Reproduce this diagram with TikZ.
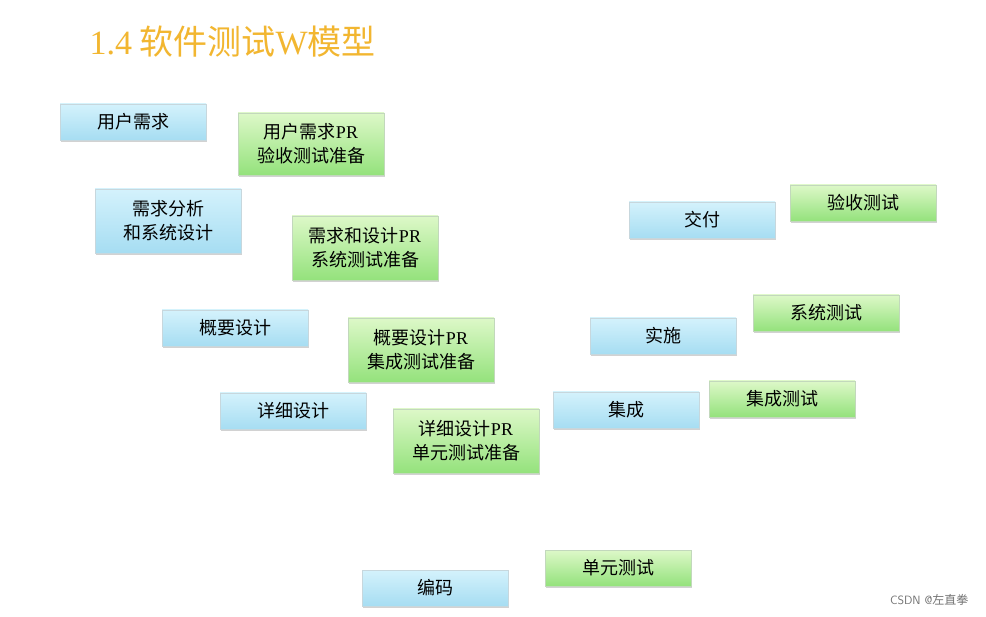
\documentclass[tikz,border=0pt]{standalone}
\usepackage{fontspec}
\setmainfont{Liberation Serif}
\newfontfamily\cjk{Noto Sans CJK SC}
\usetikzlibrary{shadows,arrows.meta}
\definecolor{bluetop}{HTML}{D4F2FC}
\definecolor{bluebot}{HTML}{A6DDF2}
\definecolor{greentop}{HTML}{DDF8C8}
\definecolor{greenbot}{HTML}{94E27C}
\definecolor{linec}{HTML}{3F6FC0}
\definecolor{titlec}{HTML}{F2B630}
\tikzset{
  bbox/.style={draw=bluebot!70!black!40, top color=bluetop, bottom color=bluebot, minimum width=146pt, minimum height=36pt, align=center, font=\cjk\fontsize{18}{24}\selectfont, inner sep=2pt, drop shadow={shadow xshift=1pt, shadow yshift=-2pt, opacity=0.35}},
  gbox/.style={bbox, draw=greenbot!70!black!40, top color=greentop, bottom color=greenbot},
  conn/.style={draw=linec, line width=1.4pt},
  arr/.style={conn, -{Stealth[length=9pt,width=7pt]}}
}
\begin{document}
\begin{tikzpicture}[x=1pt,y=-1pt]
\useasboundingbox (0,0) rectangle (986,617);
\fill[white] (0,0) rectangle (986,617);
\node[anchor=west, text=titlec, font=\cjk\fontsize{34}{40}\selectfont] (title) at (86,42) {{\rmfamily 1.4} 软件测试{\rmfamily W}模型};
% blue left
\node[bbox] (b1) at (133,122) {用户需求};
\node[bbox, minimum height=64pt] (b2) at (168,221) {需求分析\\和系统设计};
\node[bbox] (b3) at (235,328) {概要设计};
\node[bbox] (b4) at (293,411) {详细设计};
\node[bbox] (b5) at (435,588) {编码};
% green left
\node[gbox, minimum height=62pt] (g1) at (311,144) {用户需求{\rmfamily PR}\\验收测试准备};
\node[gbox, minimum height=64pt] (g2) at (365,248) {需求和设计{\rmfamily PR}\\系统测试准备};
\node[gbox, minimum height=64pt] (g3) at (421,350) {概要设计{\rmfamily PR}\\集成测试准备};
\node[gbox, minimum height=64pt] (g4) at (466,441) {详细设计{\rmfamily PR}\\单元测试准备};
\node[gbox] (g5) at (618,568) {单元测试};
% right
\node[bbox] (r1) at (626,410) {集成};
\node[bbox] (r2) at (663,336) {实施};
\node[bbox] (r3) at (702,220) {交付};
\node[gbox] (s1) at (782,399) {集成测试};
\node[gbox] (s2) at (826,313) {系统测试};
\node[gbox] (s3) at (863,203) {验收测试};
% connectors behind boxes
\begin{scope}[on background layer/.style={}]
\end{scope}
\node[anchor=east, text=black!55, font=\cjk\fontsize{12}{14}\selectfont] (wm) at (972,600) {{\sffamily CSDN @}左直拳};
\end{tikzpicture}
\end{document}
